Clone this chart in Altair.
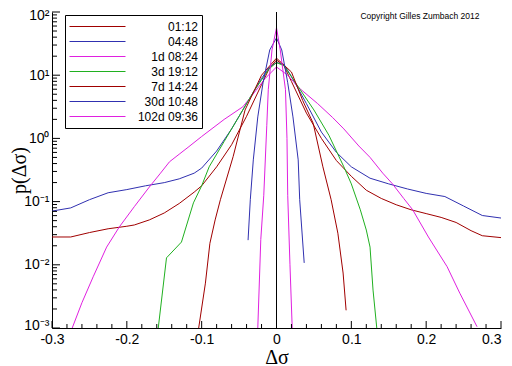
import altair as alt
import pandas as pd

# ---- series labels and colours (legend order) ----
labels = ["01:12", "04:48", "1d 08:24", "3d 19:12", "7d 14:24", "30d 10:48", "102d 09:36"]
colors = ["#A00000", "#3030B0", "#E020E0", "#20B020", "#A00000", "#3030B0", "#E020E0"]

# ---- values: x = delta sigma, lp = log10 p ----
x_0112 = [-0.30, -0.275, -0.25, -0.225, -0.20, -0.19, -0.17, -0.15, -0.13, -0.11, -0.10, -0.08, -0.06,
          -0.04, -0.02, -0.01, 0.0, 0.01, 0.02, 0.04, 0.06, 0.08, 0.10, 0.12, 0.14, 0.16, 0.18, 0.20,
          0.22, 0.24, 0.26, 0.275, 0.30]
lp_0112 = [-1.56, -1.56, -1.49, -1.43, -1.39, -1.37, -1.29, -1.18, -1.03, -0.85, -0.75, -0.45, -0.10,
           0.35, 0.85, 1.10, 1.24, 1.15, 0.90, 0.40, 0.00, -0.35, -0.60, -0.82, -0.95, -1.05, -1.13, -1.19,
           -1.25, -1.33, -1.46, -1.54, -1.57]

x_0448 = [-0.30, -0.275, -0.25, -0.225, -0.20, -0.175, -0.15, -0.13, -0.11, -0.10, -0.08, -0.06, -0.04,
          -0.02, -0.01, 0.0, 0.01, 0.02, 0.04, 0.06, 0.08, 0.10, 0.125, 0.15, 0.175, 0.20, 0.225, 0.25,
          0.275, 0.30]
lp_0448 = [-1.15, -1.10, -0.97, -0.86, -0.81, -0.75, -0.70, -0.64, -0.55, -0.47, -0.20, 0.15, 0.55,
           0.95, 1.12, 1.20, 1.17, 0.98, 0.55, 0.10, -0.22, -0.45, -0.63, -0.72, -0.80, -0.87, -0.92, -1.07,
           -1.22, -1.26]

x_1d = [-0.273, -0.26, -0.245, -0.227, -0.21, -0.19, -0.17, -0.155, -0.143, -0.13, -0.117, -0.10, -0.07,
        -0.045, -0.03, -0.015, 0.0, 0.015, 0.03, 0.055, 0.075, 0.09, 0.11, 0.125, 0.142, 0.155, 0.17,
        0.182, 0.203, 0.228, 0.245, 0.268]
lp_1d = [-3.0, -2.6, -2.19, -1.72, -1.40, -1.08, -0.77, -0.55, -0.37, -0.25, -0.13, 0.03, 0.30,
         0.50, 0.72, 0.95, 1.13, 1.00, 0.80, 0.55, 0.33, 0.15, -0.12, -0.30, -0.55, -0.72, -0.95,
         -1.13, -1.56, -2.03, -2.45, -2.98]

x_3d = [-0.158, -0.147, -0.127, -0.111, -0.10, -0.09, -0.07, -0.05, -0.03, -0.01, 0.0, 0.01, 0.03,
        0.05, 0.07, 0.09, 0.10, 0.112, 0.12, 0.125, 0.129, 0.134]
lp_3d = [-3.0, -1.89, -1.64, -1.02, -0.75, -0.45, -0.05, 0.35, 0.75, 1.10, 1.20, 1.15, 0.80,
         0.45, 0.05, -0.45, -0.72, -1.13, -1.45, -1.72, -2.40, -3.0]

x_7d = [-0.104, -0.095, -0.089, -0.082, -0.075, -0.058, -0.042, -0.02, 0.0, 0.02, 0.035, 0.049, 0.062,
        0.073, 0.082, 0.089, 0.093]
lp_7d = [-3.0, -2.29, -1.66, -1.29, -0.97, -0.29, 0.45, 1.00, 1.27, 1.05, 0.60, 0.24, -0.45,
         -0.97, -1.50, -2.13, -2.72]

x_30d = [-0.038, -0.035, -0.031, -0.025, -0.018, -0.009, 0.0, 0.007, 0.015, 0.022, 0.029, 0.031, 0.037]
lp_30d = [-1.61, -0.97, -0.34, 0.34, 0.88, 1.40, 1.59, 1.40, 0.88, 0.34, -0.34, -0.97, -1.97]

x_102d = [-0.025, -0.021, -0.017, -0.013, -0.011, -0.006, 0.0, 0.005, 0.012, 0.014, 0.015, 0.018, 0.021]
lp_102d = [-3.0, -1.6, -0.9, 0.2, 0.77, 1.40, 1.75, 1.40, 0.77, 0.0, -0.9, -2.0, -3.0]

# ---- axis tick positions ----
x_labels = [-0.3, -0.2, -0.1, 0.0, 0.1, 0.2, 0.3]
x_minor = [-0.28, -0.26, -0.24, -0.22, -0.18, -0.16, -0.14, -0.12, -0.08, -0.06, -0.04, -0.02,
           0.02, 0.04, 0.06, 0.08, 0.12, 0.14, 0.16, 0.18, 0.22, 0.24, 0.26, 0.28]
y_major = [0.001, 0.01, 0.1, 1, 10, 100]
y_minor = [m * 10.0 ** d for d in range(-3, 2) for m in range(2, 10)]
y_labels = ["10⁻³", "10⁻²", "10⁻¹", "10⁰", "10¹", "10²"]
copyright_text = "Copyright Gilles Zumbach 2012"

series = [(labels[0], x_0112, lp_0112), (labels[1], x_0448, lp_0448), (labels[2], x_1d, lp_1d),
          (labels[3], x_3d, lp_3d), (labels[4], x_7d, lp_7d), (labels[5], x_30d, lp_30d),
          (labels[6], x_102d, lp_102d)]
rows = []
for name, xs, lps in series:
    for xv, lp in zip(xs, lps):
        rows.append({"series": name, "dsig": xv, "p": 10.0 ** lp})
df = pd.DataFrame(rows)

W, H = 449, 316
xscale = alt.Scale(domain=[-0.3, 0.3], nice=False, zero=False)
yscale = alt.Scale(type="log", domain=[0.001, 100], nice=False)

label_js = "[" + ",".join("'" + s + "'" for s in y_labels) + "]"

lines = alt.Chart(df).mark_line(strokeWidth=1, clip=True).encode(
    x=alt.X("dsig:Q", scale=xscale, title="Δσ",
            axis=alt.Axis(values=x_labels, grid=False, ticks=False, tickSize=0,
                          labelExpr="datum.value == 0 ? '0' : (datum.value < 0 ? '-' : '') + format(abs(datum.value), '.1f')",
                          labelAlign={"condition": {"test": "datum.value > 0.25", "value": "right"},
                                      "value": "center"},
                          labelFont="Liberation Sans", labelFontSize=14, labelColor="black",
                          labelPadding=4, labelFlush=False, labelOverlap=False,
                          domainColor="black", domainWidth=1,
                          titleFont="Liberation Serif", titleFontSize=20, titleFontWeight="normal",
                          titleColor="black", titleY=35, titleBaseline="alphabetic")),
    y=alt.Y("p:Q", scale=yscale, title="p(Δσ)",
            axis=alt.Axis(values=y_major, grid=False, ticks=False, tickSize=0,
                          labelExpr=label_js + "[round(log(datum.value)/LN10)+3]",
                          labelOffset={"condition": [{"test": "datum.value > 50", "value": 3},
                                                     {"test": "datum.value < 0.002", "value": -3}],
                                       "value": 0},
                          labelFont="Liberation Sans", labelFontSize=14, labelColor="black",
                          labelPadding=3, labelFlush=False, labelOverlap=False,
                          domainColor="black", domainWidth=1,
                          titleFont="Liberation Serif", titleFontSize=20, titleFontWeight="normal",
                          titleColor="black", titleX=-33, titleY=158, titleAngle=270,
                          titleAlign="center", titleBaseline="middle")),
    color=alt.Color("series:N", scale=alt.Scale(domain=labels, range=colors),
                    legend=alt.Legend(orient="none", legendX=13, legendY=3, title=None,
                                      symbolType="stroke", symbolSize=3136, symbolStrokeWidth=1,
                                      clipHeight=15, rowPadding=0, padding=4,
                                      strokeColor="black", fillColor="white",
                                      labelFont="Liberation Sans", labelFontSize=12,
                                      labelColor="black", labelAlign="right", labelOffset=72,
                                      labelLimit=200)),
)

zero_line = alt.Chart(pd.DataFrame({"z": [0.0]})).mark_rule(color="black", strokeWidth=1).encode(
    x=alt.X("z:Q", scale=xscale))

ymaj = alt.Chart(pd.DataFrame({"v": y_major})).mark_rule(color="black", strokeWidth=1).encode(
    y=alt.Y("v:Q", scale=yscale), x=alt.value(0), x2=alt.value(8))
ymin = alt.Chart(pd.DataFrame({"v": y_minor})).mark_rule(color="black", strokeWidth=1).encode(
    y=alt.Y("v:Q", scale=yscale), x=alt.value(0), x2=alt.value(5))
xmaj = alt.Chart(pd.DataFrame({"v": x_labels})).mark_rule(color="black", strokeWidth=1).encode(
    x=alt.X("v:Q", scale=xscale), y=alt.value(H), y2=alt.value(H - 7))
xmin = alt.Chart(pd.DataFrame({"v": x_minor})).mark_rule(color="black", strokeWidth=1).encode(
    x=alt.X("v:Q", scale=xscale), y=alt.value(H), y2=alt.value(H - 4))

note = alt.Chart(pd.DataFrame({"t": [copyright_text]})).mark_text(
    font="Liberation Sans", fontSize=8.5, align="center", baseline="middle", color="black").encode(
    text="t:N", x=alt.value(368), y=alt.value(4))

chart = alt.layer(lines, zero_line, ymaj, ymin, xmaj, xmin, note).properties(
    width=W, height=H,
    padding={"left": 44, "top": 4, "right": 3, "bottom": 38},
    autosize=alt.AutoSizeParams(type="none"),
    background="white",
).configure_view(stroke=None)

chart.save("out.html", embed_options={"renderer": "svg", "actions": False})
